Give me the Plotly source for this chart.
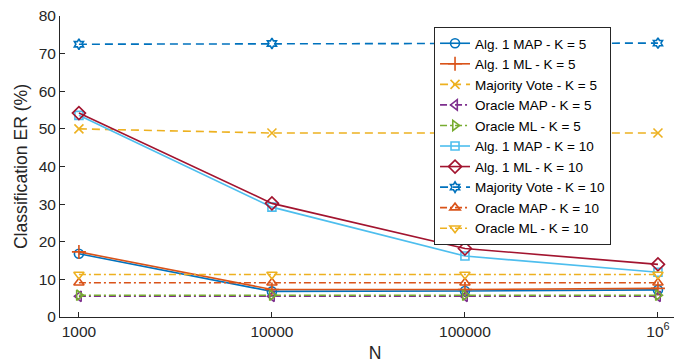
import plotly.graph_objects as go

N_values = [1000, 10000, 100000, 1000000]
x_tick_labels = ["1000", "10000", "100000", "10<sup>6</sup>"]

alg1_map_k5 = [16.8, 6.8, 6.9, 7.2]
alg1_ml_k5 = [17.3, 7.3, 7.3, 7.6]
majority_k5 = [50.0, 48.9, 48.9, 48.9]
oracle_map_k5 = [5.5, 5.5, 5.5, 5.5]
oracle_ml_k5 = [5.8, 5.8, 5.8, 5.8]
alg1_map_k10 = [53.6, 29.2, 16.2, 11.9]
alg1_ml_k10 = [54.2, 30.2, 18.2, 14.0]
majority_k10 = [72.5, 72.7, 72.7, 72.8]
oracle_map_k10 = [9.1, 9.1, 9.1, 9.1]
oracle_ml_k10 = [11.3, 11.3, 11.3, 11.3]

series = [
    ("Alg. 1 MAP - K = 5", alg1_map_k5, "#0072BD", "solid", "circle-open", 9),
    ("Alg. 1 ML - K = 5", alg1_ml_k5, "#D95319", "solid", "cross-thin-open", 10),
    ("Majority Vote - K = 5", majority_k5, "#EDB120", "8px,5px", "x-thin-open", 9),
    ("Oracle MAP - K = 5", oracle_map_k5, "#7E2F8E", "7px,3px,2px,3px", "triangle-left-open", 9),
    ("Oracle ML - K = 5", oracle_ml_k5, "#77AC30", "7px,3px,2px,3px", "triangle-right-open", 9),
    ("Alg. 1 MAP - K = 10", alg1_map_k10, "#4DBEEE", "solid", "square-open", 8),
    ("Alg. 1 ML - K = 10", alg1_ml_k10, "#A2142F", "solid", "diamond-open", 10),
    ("Majority Vote - K = 10", majority_k10, "#0072BD", "8px,5px", "hexagram-open", 8),
    ("Oracle MAP - K = 10", oracle_map_k10, "#D95319", "7px,3px,2px,3px", "triangle-up-open", 9),
    ("Oracle ML - K = 10", oracle_ml_k10, "#EDB120", "7px,3px,2px,3px", "triangle-down-open", 9),
]

fig = go.Figure()
for name, vals, color, dash, sym, msize in series:
    fig.add_trace(go.Scatter(
        x=N_values, y=vals, name=name, mode="lines+markers",
        line=dict(color=color, width=1.6, dash=dash),
        marker=dict(symbol=sym, size=msize, color=color, line=dict(width=1.6, color=color)),
    ))

axis_color = "#262626"
fig.update_layout(
    width=682, height=364,
    margin=dict(l=52, r=0, t=8, b=55),
    paper_bgcolor="white", plot_bgcolor="white",
    font=dict(family="Liberation Sans, Arial, sans-serif", size=15.5, color=axis_color),
    showlegend=True,
    legend=dict(
        x=0.5937, y=0.9635, xanchor="left", yanchor="top",
        bgcolor="white", bordercolor=axis_color, borderwidth=1,
        font=dict(size=13.5, color="black"),
        tracegroupgap=0, itemwidth=30,
    ),
    xaxis=dict(
        type="log", range=[2.902, 6.166],
        tickvals=N_values, ticktext=x_tick_labels,
        ticks="inside", ticklen=5, tickcolor=axis_color,
        showline=True, linecolor=axis_color, linewidth=1,
        showgrid=False, zeroline=False, ticklabeloverflow="allow",
        title=dict(text="N", font=dict(size=17.6), standoff=8),
        tickfont=dict(size=15.5),
    ),
    yaxis=dict(
        range=[0, 80], tickvals=[0, 10, 20, 30, 40, 50, 60, 70, 80],
        ticks="inside", ticklen=5, tickcolor=axis_color,
        showline=True, linecolor=axis_color, linewidth=1,
        showgrid=False, zeroline=False, ticklabeloverflow="allow",
        title=dict(text="Classification ER (%)", font=dict(size=17.6), standoff=6),
        tickfont=dict(size=15.5),
    ),
)

fig.write_html("out.html")
